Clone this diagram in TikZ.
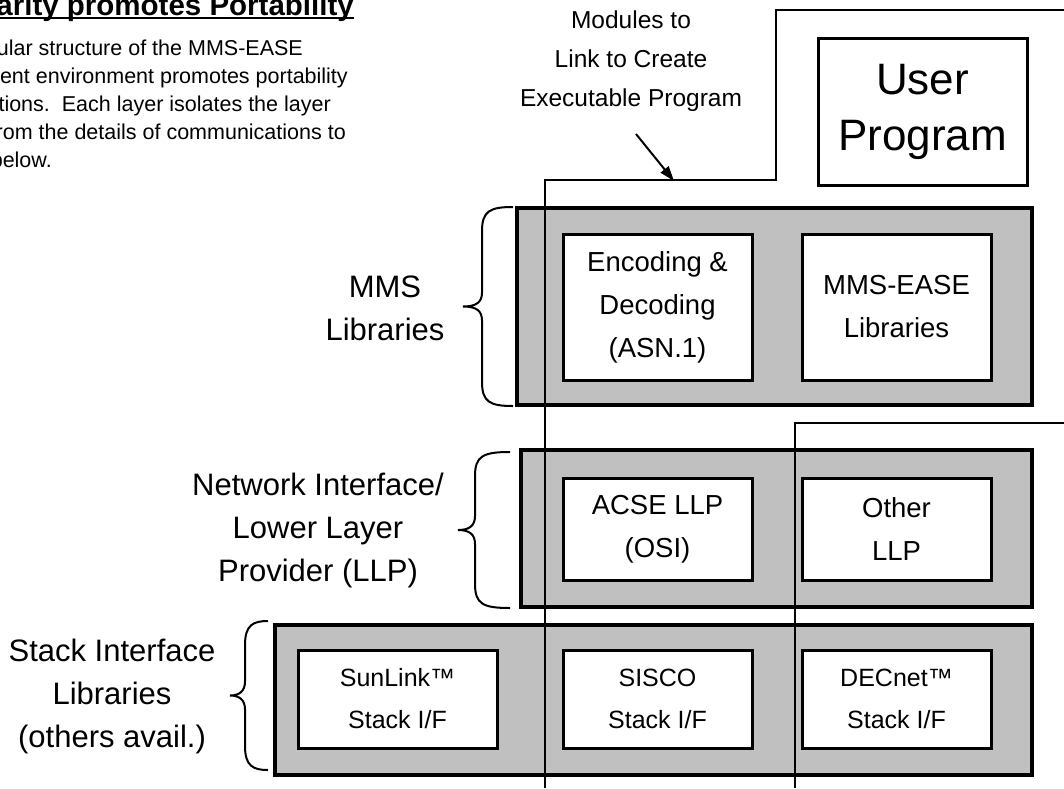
\documentclass[tikz,border=0pt]{standalone}
\usepackage{fontspec}
\setmainfont{Liberation Sans}
\usetikzlibrary{arrows.meta}
\definecolor{layergray}{RGB}{192,192,192}
\newcommand\mybrace[5]{% #1 xend, #2 xspine, #3 xtip, #4 ytop, #5 ybot
  \draw[bracestyle] (#1,#4) .. controls ({#2+8},#4) and (#2,{#4+4}) .. (#2,{#4+24})
  -- (#2,{(#4+#5)/2-14}) .. controls (#2,{(#4+#5)/2-4}) and ({#2-6},{(#4+#5)/2}) .. (#3,{(#4+#5)/2})
  .. controls ({#2-6},{(#4+#5)/2}) and (#2,{(#4+#5)/2+4}) .. (#2,{(#4+#5)/2+14})
  -- (#2,{#5-24}) .. controls (#2,{#5-4}) and ({#2+8},#5) .. (#1,#5);}
\begin{document}
\begin{tikzpicture}[x=1pt,y=-1pt,
  graybox/.style={draw=black, fill=layergray, line width=3.5pt, inner sep=0pt},
  wbox/.style={draw=black, fill=white, line width=3pt, inner sep=0pt, align=center,
     minimum width=189pt, font=\fontsize{27.5}{43}\selectfont},
  sbox/.style={wbox, minimum height=98pt, font=\fontsize{25}{42}\selectfont},
  thinline/.style={draw=black, line width=1.3pt},
  bracestyle/.style={draw=black, line width=2pt},
  sidelabel/.style={align=center, inner sep=0pt, font=\fontsize{31}{43}\selectfont},
  bodytext/.style={anchor=base east, inner sep=0pt, font=\fontsize{21.5}{28}\selectfont},
  arrowstyle/.style={draw=black, line width=2pt, -{Triangle[length=15pt,width=10pt]}}]
\useasboundingbox (0,0) rectangle (1064,788);
% title and body text
\node[anchor=base east, inner sep=0pt, font=\fontsize{29.5}{32}\selectfont\bfseries] (title) at (354,15) {Modularity promotes Portability};
\draw[line width=2.4pt] ([yshift=-3pt]title.base west) -- ([yshift=-3pt]title.base east);
\node[bodytext] (b1) at (303,55) {The modular structure of the MMS-EASE};
\node[bodytext] (b2) at (348,83) {development environment promotes portability};
\node[bodytext] (b3) at (331,111) {of applications.\ \ Each layer isolates the layer};
\node[bodytext] (b4) at (346,139) {above from the details of communications to};
\node[bodytext] (b5) at (52,167) {the layer below.};
% layer boxes
\node[graybox, minimum width=515pt, minimum height=197pt] (mmsbox) at (774.5,306.5) {};
\node[graybox, minimum width=511pt, minimum height=157pt] (llpbox) at (776.5,528.5) {};
\node[graybox, minimum width=757pt, minimum height=150pt] (stackbox) at (653.5,700) {};
% module outlines
\coordinate (p1a) at (545,788);
\coordinate (p1b) at (545,180);
\coordinate (p1c) at (776,180);
\coordinate (p1d) at (776,10);
\coordinate (p1e) at (1066,10);
\draw[thinline] (p1a) -- (p1b) -- (p1c) -- (p1d) -- (p1e);
\coordinate (p2a) at (795,788);
\coordinate (p2b) at (795,423);
\coordinate (p2c) at (1066,423);
\draw[thinline] (p2a) -- (p2b) -- (p2c);
% inner boxes
\node[wbox, minimum width=209pt, minimum height=147pt, font=\fontsize{44}{56}\selectfont] (user) at (922.5,111.5) {User\\Program};
\node[wbox, minimum height=146pt] (enc) at (657.5,307) {Encoding \&\\Decoding\\(ASN.1)};
\node[wbox, minimum height=146pt] (mmsease) at (896.5,307) {MMS-EASE\\Libraries};
\node[wbox, minimum height=102pt] (acse) at (657.5,529) {ACSE LLP\\(OSI)};
\node[wbox, minimum height=102pt] (other) at (896.5,529) {Other\\LLP};
\node[sbox, minimum width=199pt] (sunlink) at (397.5,699) {SunLink™\\Stack I/F};
\node[sbox] (sisco) at (657.5,699) {SISCO\\Stack I/F};
\node[sbox] (decnet) at (896.5,699) {DECnet™\\Stack I/F};
% side labels and braces
\node[sidelabel] (mmslab) at (385,308) {MMS\\Libraries};
\node[sidelabel] (llplab) at (318,530) {Network Interface/\\Lower Layer\\Provider (LLP)};
\node[sidelabel] (stacklab) at (112,696) {Stack Interface\\Libraries\\(others avail.)};
\mybrace{513}{482}{463}{207}{406}
\mybrace{510}{475}{458}{452}{608}
\mybrace{268}{245}{230}{621}{770}
% modules label and arrow
\node[align=center, inner sep=0pt, font=\fontsize{24.5}{39}\selectfont] (modules) at (631,61) {Modules to\\Link to Create\\Executable Program};
\coordinate (arrS) at (636,134);
\coordinate (arrE) at (674,181);
\draw[arrowstyle] (arrS) -- (arrE);
\end{tikzpicture}
\end{document}
